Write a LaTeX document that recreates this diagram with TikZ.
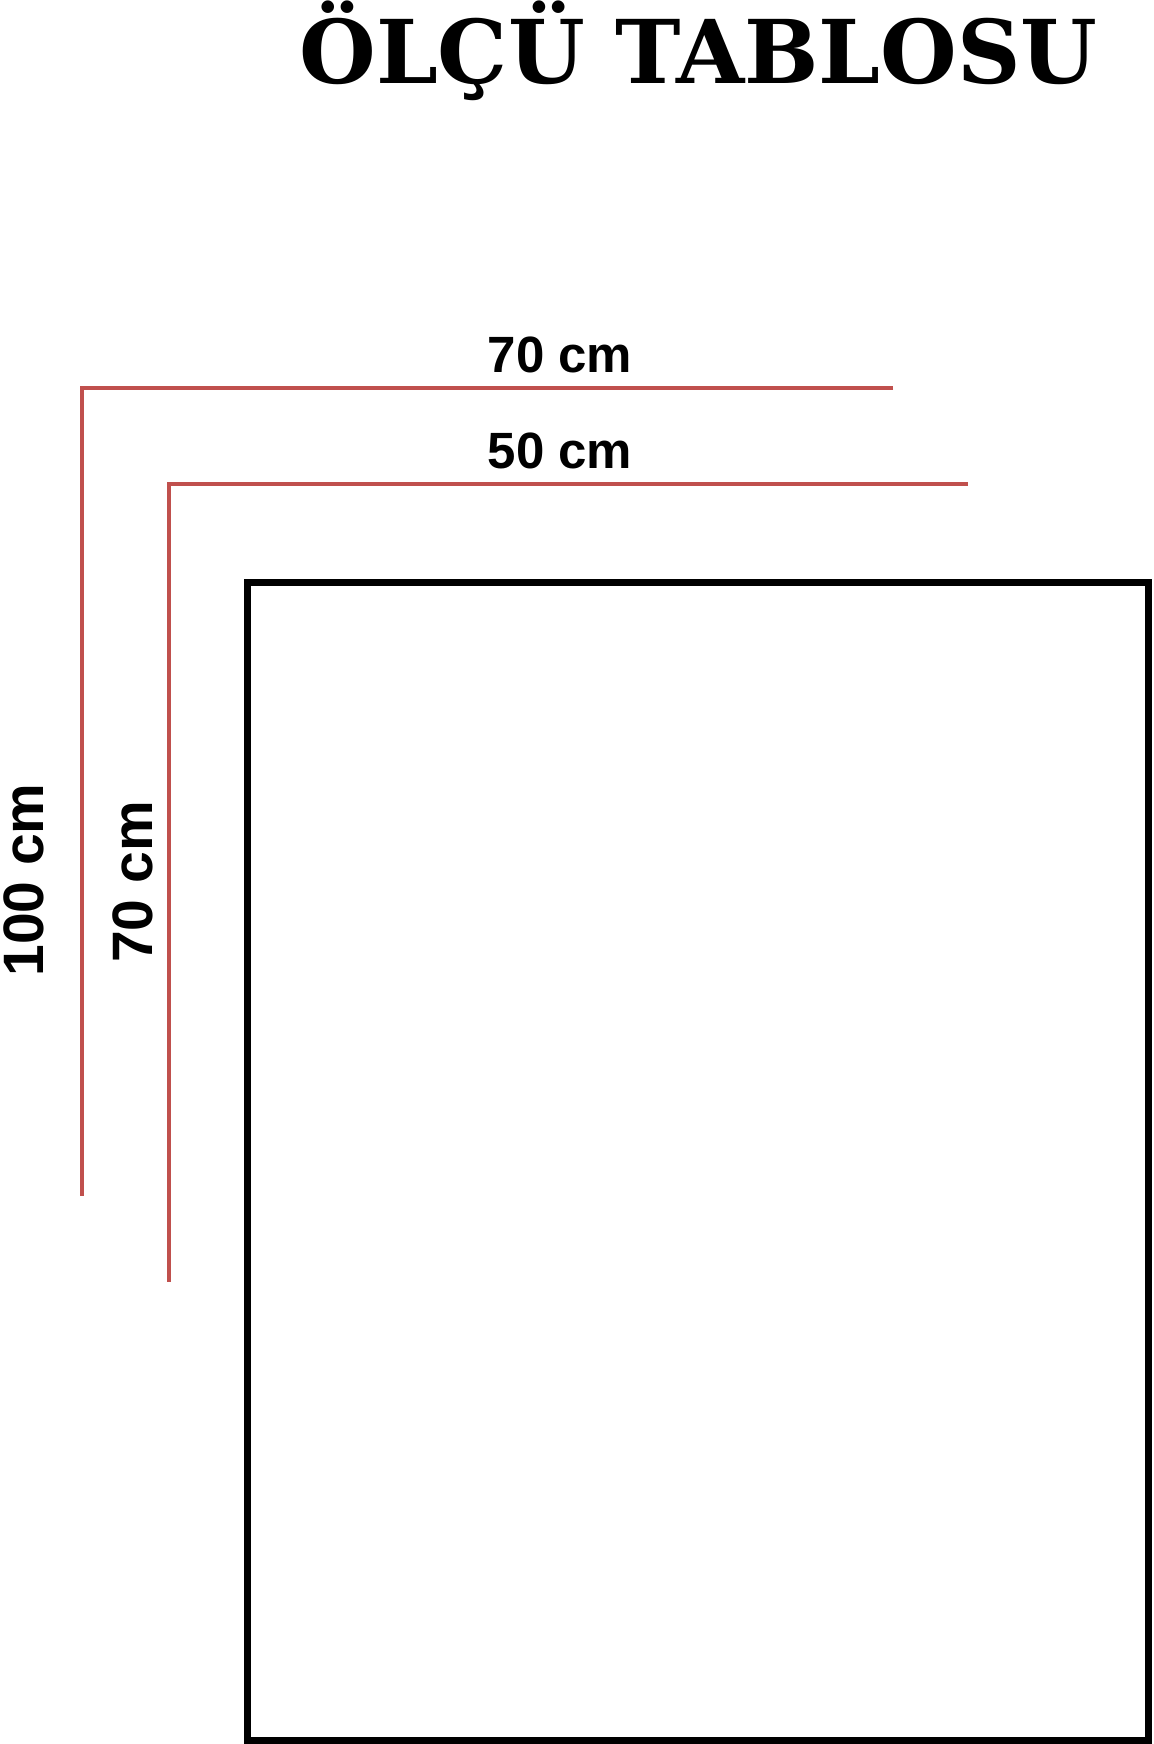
\documentclass[tikz,border=0pt]{standalone}
\usepackage{fontspec}
\newfontfamily\titlefont{DejaVu Serif}
\newfontfamily\olcufont{Liberation Sans}
\definecolor{olcured}{RGB}{192,80,77}
\tikzset{
	olcu/.style={draw=olcured, line width=1.75pt},
	cerceve/.style={draw=black, line width=3.5pt},
	yatay/.style={anchor=base, inner sep=0pt, font=\olcufont\bfseries\fontsize{25.5}{30}\selectfont},
	dikey/.style={anchor=base, inner sep=0pt, rotate=90, font=\olcufont\bfseries\fontsize{28.5}{34}\selectfont},
}

\begin{document}
\begin{tikzpicture}[x=0.5pt, y=-0.5pt]
		\useasboundingbox (0,0) rectangle (1153,1744);
		\node[anchor=base, inner sep=0pt, font=\titlefont\bfseries\fontsize{44}{50}\selectfont] (baslik) at (698.5,84) {ÖLÇÜ TABLOSU};
		% dis olcu
		\coordinate (dis) at (82,388);
		\coordinate (disSag) at (893,388);
		\coordinate (disAlt) at (82,1196);
		\draw[olcu] (disSag) -- (dis) -- (disAlt);
		% ic olcu
		\coordinate (ic) at (169,484);
		\coordinate (icSag) at (968,484);
		\coordinate (icAlt) at (169,1282);
		\draw[olcu] (icSag) -- (ic) -- (icAlt);
		% tablo
		\coordinate (tabloUst) at (247,582);
		\coordinate (tabloAlt) at (1148,1740);
		\draw[cerceve] (tabloUst) rectangle (tabloAlt);
		\node[yatay] (enDis) at (560,372) {70 cm};
		\node[yatay] (enIc) at (560,468) {50 cm};
		\node[dikey] (boyDis) at (43,880) {100 cm};
		\node[dikey] (boyIc) at (152,882) {70 cm};
\end{tikzpicture}
\end{document}
